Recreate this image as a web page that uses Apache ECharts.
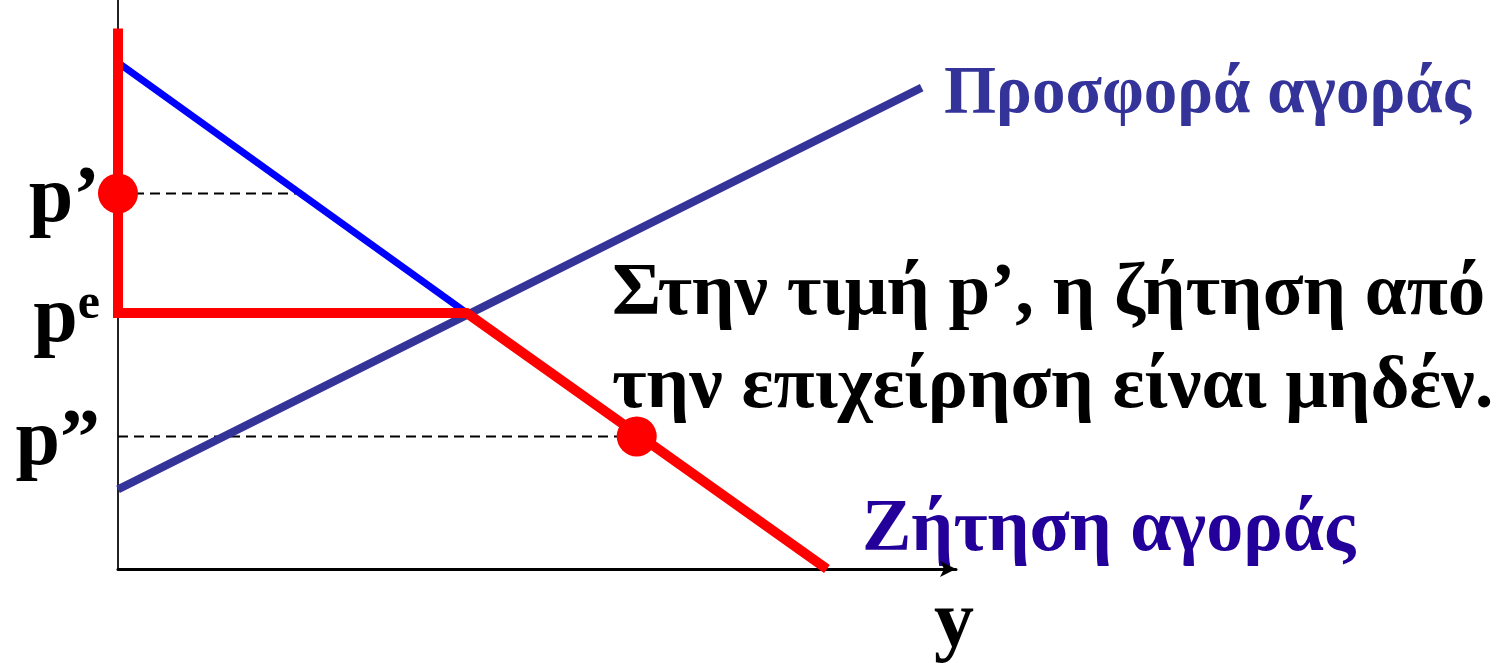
<!DOCTYPE html>
<html>
<head>
<meta charset="utf-8">
<script src="https://cdn.jsdelivr.net/npm/echarts@6/dist/echarts.min.js"></script>
<style>
  html, body { margin: 0; padding: 0; background: #fff; }
  #chart { width: 1507px; height: 663px; }
</style>
</head>
<body>
<div id="chart"></div>
<script>
// price levels on the vertical axis: p', p^e, p''
const priceLevels = [66, 45, 23.3]
const priceNames = ['p\u2019', 'p{sup|e}', 'p\u201d']

// market demand (blue part, then continues as the red firm demand)
const demandX = [0, 41.6]
const demandY = [89, 45]

// market supply
const supplyX = [0, 95.9]
const supplyY = [14, 84.6]

// demand facing the firm (red kinked curve)
const firmX = [0, 0, 41.6, 84.6]
const firmY = [95, 45, 45, 0]

// marked points on the firm demand
const dotX = [0, 61.9]
const dotY = [66, 23.3]

// dashed guides: from axis to market demand at p', to firm demand at p''
const guideEndX = [21.7, 61.9]
const guideY = [66, 23.3]

const FONT = '"Liberation Serif", "DejaVu Serif", serif'

const zip = (xs, ys) => xs.map((x, i) => [x, ys[i]])

const chart = echarts.init(document.getElementById('chart'))

const guideSeries = guideY.map((y, i) => ({
  type: 'line',
  data: [[0, y], [guideEndX[i], y]],
  symbol: 'none',
  silent: true,
  z: 1,
  lineStyle: { color: '#000', width: 2, type: [10, 6] },
}))

chart.setOption({
  animation: false,
  grid: { left: 118, right: 551, top: 0, bottom: 94 },
  xAxis: {
    type: 'value', min: 0, max: 100,
    splitLine: { show: false }, axisTick: { show: false }, axisLabel: { show: false },
    axisLine: {
      show: true, onZero: false,
      symbol: ['none', 'arrow'], symbolSize: [12, 16],
      lineStyle: { color: '#000', width: 3 },
    },
  },
  yAxis: {
    type: 'value', min: 0, max: 100,
    splitLine: { show: false }, axisTick: { show: false }, axisLabel: { show: false },
    axisLine: { show: true, onZero: false, lineStyle: { color: '#222', width: 2 } },
  },
  series: [
    ...guideSeries,
    {
      name: 'Ζήτηση αγοράς',
      type: 'line',
      data: zip(demandX, demandY),
      symbol: 'none',
      z: 2,
      lineStyle: { color: '#0000ff', width: 7, cap: 'butt' },
    },
    {
      name: 'Προσφορά αγοράς',
      type: 'line',
      data: zip(supplyX, supplyY),
      symbol: 'none',
      z: 3,
      lineStyle: { color: '#333399', width: 8, cap: 'butt' },
    },
    {
      name: 'firm',
      type: 'line',
      data: zip(firmX, firmY),
      symbol: 'none',
      z: 4,
      lineStyle: { color: '#ff0000', width: 10, cap: 'butt', join: 'miter' },
    },
    {
      type: 'scatter',
      data: zip(dotX, dotY),
      symbol: 'circle',
      symbolSize: 40,
      z: 5,
      itemStyle: { color: '#ff0000', opacity: 1 },
    },
    {
      // price labels left of the axis
      type: 'scatter',
      data: priceLevels.map((p, i) => ({ value: [0, p], name: priceNames[i] })),
      symbolSize: 0,
      z: 6,
      itemStyle: { opacity: 1 },
      label: {
        show: true,
        position: 'left',
        distance: 18,
        offset: [0, 7],
        formatter: '{b}',
        fontFamily: FONT,
        fontWeight: 'bold',
        fontSize: 80,
        color: '#000',
        rich: {
          sup: { fontFamily: FONT, fontWeight: 'bold', fontSize: 50, color: '#000', verticalAlign: 'top' },
        },
      },
    },
  ],
  graphic: [
    {
      type: 'text', left: 944, top: 61,
      style: { text: 'Προσφορά αγοράς', font: 'bold 67px ' + FONT, fill: '#333399' },
    },
    {
      type: 'text', left: 612, top: 248,
      style: {
        text: 'Στην τιμή p\u2019, η ζήτηση από\nτην επιχείρηση είναι μηδέν.',
        font: 'bold 75px ' + FONT, fill: '#000', lineHeight: 93,
      },
    },
    {
      type: 'text', left: 862, top: 494,
      style: { text: 'Ζήτηση αγοράς', font: 'bold 74px ' + FONT, fill: '#220099' },
    },
    {
      type: 'text', left: 934, top: 585,
      style: { text: 'y', font: 'bold 80px ' + FONT, fill: '#000' },
    },
  ],
})
</script>
</body>
</html>
